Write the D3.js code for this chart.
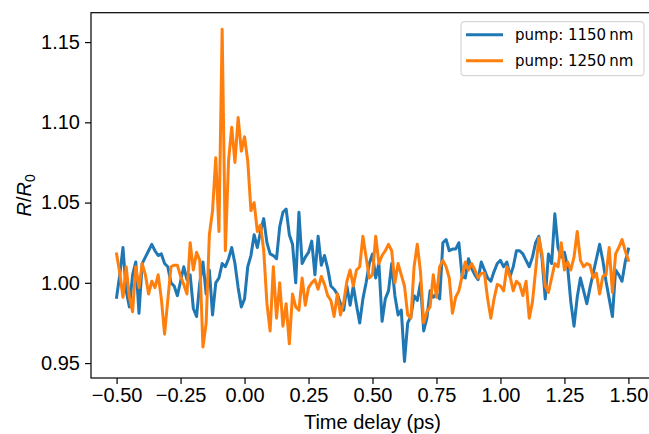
<!DOCTYPE html>
<html><head><meta charset="utf-8">
<script src="https://cdn.jsdelivr.net/npm/d3@7"></script>
<style>body{margin:0;background:#fff;} svg{display:block;} .tick text,.lab{font-family:"Liberation Sans",Arial,sans-serif;}</style>
</head><body><svg id="chart" width="649" height="434"></svg>
<script>
// time grid (ps): start and step of the delay scan
const timeStart = -0.5, timeStep = 0.0125;
const pump1150 = [0.991,1.005,1.022,0.995,0.985,1.005,1.013,0.981,1.012,1.016,1.020,1.024,1.020,1.017,1.018,1.012,1.010,1.000,0.998,0.992,
1.001,1.010,1.002,1.005,0.984,0.979,1.000,1.013,0.993,1.008,0.980,1.000,1.003,1.012,1.010,1.015,1.022,1.012,0.997,0.985,
0.990,1.010,1.017,1.030,1.022,1.032,1.040,1.025,1.018,1.017,1.015,1.035,1.044,1.046,1.030,1.024,1.000,1.044,1.012,1.016,
1.019,1.026,1.005,1.029,1.011,1.017,1.009,0.998,0.996,0.993,0.987,0.983,0.998,0.986,0.998,0.986,0.975,0.990,1.000,1.012,
1.018,1.003,1.012,0.976,0.990,0.995,1.012,0.992,0.980,0.983,0.951,0.975,0.979,0.992,0.989,1.000,0.970,0.978,0.995,0.991,
0.993,0.990,1.025,1.027,1.020,1.021,1.021,1.025,1.004,1.003,1.015,1.009,1.005,1.002,1.013,1.008,1.003,1.001,1.007,1.012,
1.014,1.010,1.013,1.004,1.010,1.020,1.020,1.018,1.014,1.010,1.016,1.025,1.029,1.015,0.990,1.018,1.012,1.043,1.022,1.016,
1.019,1.010,0.988,0.973,0.991,1.003,0.995,0.987,0.997,1.006,1.015,1.024,1.014,1.001,0.990,0.979,1.008,1.005,1.001,1.013,1.021];
const pump1250 = [1.018,1.006,0.991,1.010,0.991,0.982,1.010,0.997,1.012,1.005,0.993,1.001,0.997,1.005,0.990,0.968,0.989,1.010,1.011,1.011,
1.004,0.999,0.993,1.025,1.008,1.019,1.014,0.960,0.975,1.030,1.045,1.078,1.032,1.158,1.020,1.076,1.097,1.075,1.103,1.082,
1.091,1.076,1.045,1.050,1.032,1.036,1.020,0.987,0.970,1.010,0.978,1.000,0.973,0.987,0.962,0.993,0.985,0.983,1.003,0.986,
0.997,1.000,1.002,0.996,1.004,0.999,0.992,0.989,0.979,0.993,0.980,0.988,1.001,1.008,0.998,1.008,1.010,1.029,1.016,1.003,
1.005,1.029,1.012,1.017,1.020,1.024,1.020,1.000,1.012,1.005,0.998,0.980,0.978,1.010,1.024,1.007,0.975,0.982,0.985,1.005,
0.991,1.010,1.014,1.010,1.003,0.981,0.991,0.995,1.004,1.013,1.008,1.012,1.008,1.003,1.006,1.006,0.990,0.978,0.990,0.999,
0.998,0.995,1.010,1.004,0.995,1.001,0.999,0.992,1.001,0.978,0.988,1.008,1.028,1.018,0.998,0.994,1.003,1.012,1.010,1.025,
1.008,1.013,1.008,1.016,1.032,1.014,1.010,1.012,1.011,1.003,1.006,0.993,1.004,1.005,1.022,0.994,1.018,1.022,1.027,1.020,1.014];
const seriesNames = ["pump: 1150\u2009nm", "pump: 1250\u2009nm"];
const seriesColors = ["#1f77b4", "#ff7f0e"];
const xTicks = [-0.5, -0.25, 0, 0.25, 0.5, 0.75, 1.0, 1.25, 1.5];
const yTicks = [0.95, 1.00, 1.05, 1.10, 1.15];
const xLabel = "Time delay (ps)";

const svg = d3.select("#chart");
const L = 91, R = 654, T = 12.7, B = 378;
const x = d3.scaleLinear().domain([-0.6, 1.6]).range([L, R]);
const y = d3.scaleLinear().domain([0.9407, 1.1683]).range([B, T]);
const fmt = d => d3.format(".2f")(d).replace("-", "\u2212");

const gx = svg.append("g").attr("transform", `translate(0,${B})`)
  .call(d3.axisBottom(x).tickValues(xTicks).tickFormat(fmt).tickSize(6).tickPadding(4).tickSizeOuter(0));
const gy = svg.append("g").attr("transform", `translate(${L},0)`)
  .call(d3.axisLeft(y).tickValues(yTicks).tickFormat(fmt).tickSize(6).tickPadding(5).tickSizeOuter(0));
[gx, gy].forEach(g => {
  g.select(".domain").remove();
  g.selectAll(".tick line").attr("stroke", "#000").attr("stroke-width", 1.2);
  g.selectAll(".tick text").attr("fill", "#000").style("font-size", "20px");
});

const line = d3.line().x((d, i) => x(timeStart + i * timeStep)).y(d => y(d));
[pump1150, pump1250].forEach((s, k) => {
  svg.append("path").datum(s).attr("d", line).attr("fill", "none")
    .attr("stroke", seriesColors[k]).attr("stroke-width", 3)
    .attr("stroke-linejoin", "round").attr("stroke-linecap", "square");
});

svg.append("rect").attr("x", L).attr("y", T).attr("width", R - L).attr("height", B - T)
  .attr("fill", "none").attr("stroke", "#000").attr("stroke-width", 1.2);

svg.append("text").attr("class", "lab").attr("x", x(0.5)).attr("y", 429)
  .attr("text-anchor", "middle").style("font-size", "20px").text(xLabel);

const yl = svg.append("text").attr("class", "lab").attr("transform", `translate(31,${(T + B) / 2}) rotate(-90)`)
  .attr("text-anchor", "middle").style("font-size", "20px");
yl.append("tspan").attr("font-style", "italic").text("R");
yl.append("tspan").text("/");
yl.append("tspan").attr("font-style", "italic").text("R");
yl.append("tspan").attr("dy", 4).style("font-size", "14px").text("0");

// legend
const lg = svg.append("g");
lg.append("rect").attr("x", 461).attr("y", 21.7).attr("width", 183).attr("height", 54).attr("rx", 3)
  .attr("fill", "#fff").attr("fill-opacity", 0.8).attr("stroke", "#cccccc").attr("stroke-width", 1);
seriesNames.forEach((n, k) => {
  const yy = 34.7 + k * 26;
  lg.append("line").attr("x1", 466).attr("x2", 503).attr("y1", yy).attr("y2", yy)
    .attr("stroke", seriesColors[k]).attr("stroke-width", 3);
  lg.append("text").attr("x", 515).attr("y", yy + 5.5).attr("fill", "#000")
    .style("font-family", "'DejaVu Sans',sans-serif").style("font-size", "15px").text(n);
});
</script></body></html>
